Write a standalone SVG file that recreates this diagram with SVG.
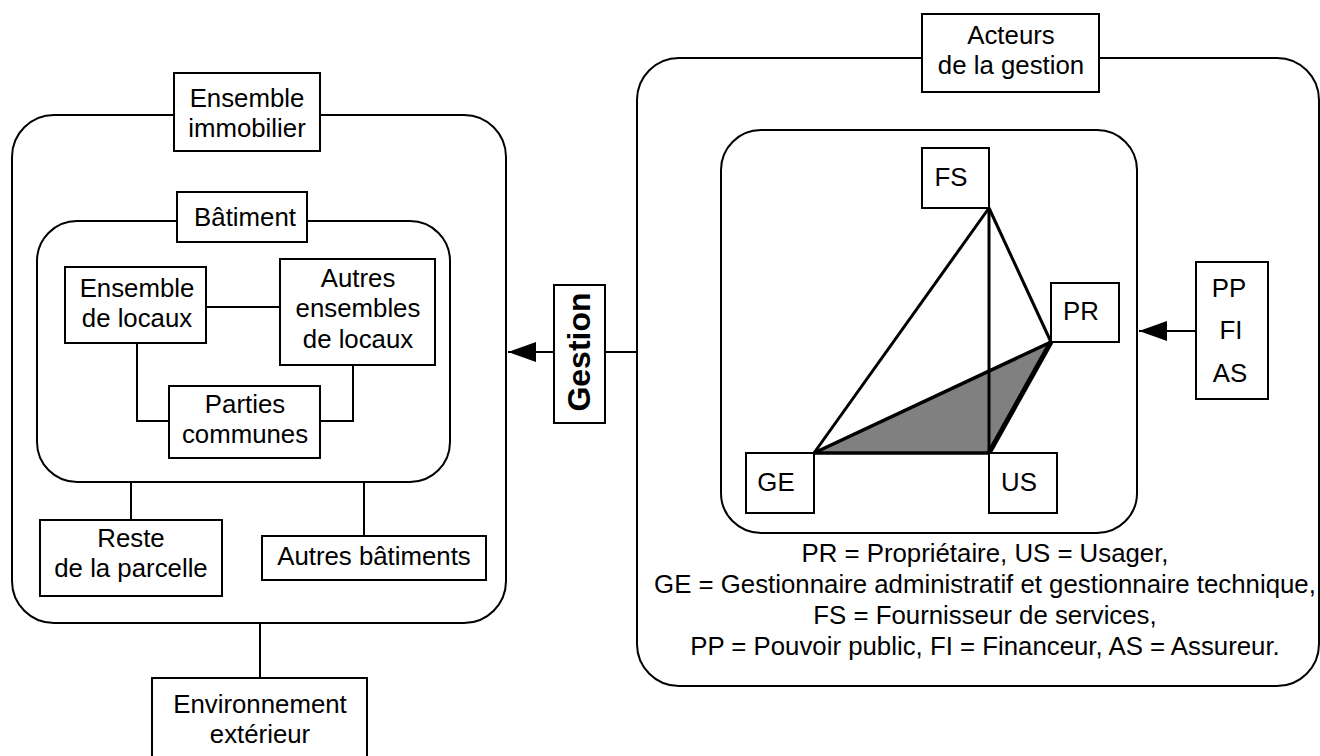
<svg xmlns="http://www.w3.org/2000/svg" width="1320" height="756" viewBox="0 0 1320 756">
<style>
.bx{fill:#fff;stroke:#000;stroke-width:2}
.rr{fill:none;stroke:#000;stroke-width:2}
.ln{fill:none;stroke:#000;stroke-width:2}
.tl{fill:none;stroke:#000;stroke-width:3}
text{font-family:"Liberation Sans",Arial,Helvetica,sans-serif;font-size:25.8px;fill:#000;text-anchor:middle}
.b{font-weight:bold;font-size:32px}
</style>
<defs>
<marker id="arr" markerUnits="userSpaceOnUse" markerWidth="30" markerHeight="22" refX="28" refY="10" orient="auto">
<path d="M0,0 L28,10 L0,20 Z" fill="#000"/>
</marker>
</defs>
<rect id="outer-left" class="rr" x="12" y="115" width="494" height="508" rx="42" ry="42"/>
<rect id="inner-left" class="rr" x="37" y="221" width="413" height="261" rx="40" ry="40"/>
<rect id="outer-right" class="rr" x="637" y="58" width="682" height="628" rx="42" ry="42"/>
<rect id="inner-right" class="rr" x="721" y="130" width="416" height="403" rx="40" ry="40"/>
<g id="connectors">
<line class="ln" x1="206" y1="307" x2="280" y2="307"/>
<polyline class="ln" points="137,343 137,421 169,421"/>
<polyline class="ln" points="353,365 353,421 320,421"/>
<line class="ln" x1="131" y1="482" x2="131" y2="520"/>
<line class="ln" x1="364" y1="482" x2="364" y2="536"/>
<line class="ln" x1="260" y1="623" x2="260" y2="678"/>
<line class="ln" x1="554" y1="352" x2="508" y2="352" marker-end="url(#arr)"/>
<line class="ln" x1="605" y1="352" x2="637" y2="352"/>
<line class="ln" x1="1196" y1="331" x2="1139" y2="331" marker-end="url(#arr)"/>
<polygon points="814,453 1051,342 989,453" fill="#808080" stroke="none"/>
<line class="tl" x1="814" y1="453" x2="989" y2="208"/>
<line class="tl" x1="989" y1="208" x2="989" y2="453"/>
<line class="tl" x1="989" y1="208" x2="1051" y2="342"/>
<line stroke="#000" stroke-width="3.5" x1="814" y1="453" x2="1051" y2="342"/>
<line stroke="#000" stroke-width="3.5" x1="814" y1="453" x2="989" y2="453"/>
<line stroke="#000" stroke-width="5" x1="989" y1="453" x2="1051" y2="342"/>
</g>
<g id="ensemble-immobilier">
<rect class="bx" x="174" y="73" width="146" height="78"/>
<text x="247" y="107">Ensemble</text>
<text x="247" y="137">immobilier</text>
</g>
<g id="batiment">
<rect class="bx" x="177" y="192" width="130" height="50"/>
<text x="245" y="226">Bâtiment</text>
</g>
<g id="ensemble-locaux">
<rect class="bx" x="65" y="267" width="141" height="76"/>
<text x="137" y="297">Ensemble</text>
<text x="137" y="327">de locaux</text>
</g>
<g id="autres-ensembles">
<rect class="bx" x="280" y="259" width="155" height="106"/>
<text x="358" y="287">Autres</text>
<text x="358" y="317">ensembles</text>
<text x="358" y="348">de locaux</text>
</g>
<g id="parties-communes">
<rect class="bx" x="169" y="386" width="151" height="72"/>
<text x="245" y="413">Parties</text>
<text x="245" y="443">communes</text>
</g>
<g id="reste-parcelle">
<rect class="bx" x="40" y="520" width="182" height="76"/>
<text x="131" y="547">Reste</text>
<text x="131" y="577">de la parcelle</text>
</g>
<g id="autres-batiments">
<rect class="bx" x="262" y="536" width="224" height="44"/>
<text x="374" y="565">Autres bâtiments</text>
</g>
<g id="environnement">
<rect class="bx" x="152" y="678" width="215" height="90"/>
<text x="260" y="713">Environnement</text>
<text x="260" y="743">extérieur</text>
</g>
<g id="gestion">
<rect class="bx" x="554" y="285" width="51" height="138"/>
<text class="b" transform="translate(590,352) rotate(-90)" x="0" y="0">Gestion</text>
</g>
<g id="acteurs">
<rect class="bx" x="922" y="14" width="177" height="78"/>
<text x="1011" y="44">Acteurs</text>
<text x="1011" y="74">de la gestion</text>
</g>
<g id="fs">
<rect class="bx" x="922" y="148" width="67" height="60"/>
<text x="951" y="186">FS</text>
</g>
<g id="pr">
<rect class="bx" x="1051" y="283" width="68" height="59"/>
<text x="1081" y="320">PR</text>
</g>
<g id="ge">
<rect class="bx" x="746" y="453" width="68" height="60"/>
<text x="776" y="491">GE</text>
</g>
<g id="us">
<rect class="bx" x="989" y="453" width="68" height="60"/>
<text x="1019" y="491">US</text>
</g>
<g id="pp-fi-as">
<rect class="bx" x="1196" y="262" width="72" height="137"/>
<text x="1229" y="297">PP</text>
<text x="1231" y="339">FI</text>
<text x="1230" y="382">AS</text>
</g>
<g id="legend">
<text x="985" y="562">PR = Propriétaire, US = Usager,</text>
<text x="985" y="593">GE = Gestionnaire administratif et gestionnaire technique,</text>
<text x="985" y="624">FS = Fournisseur de services,</text>
<text x="985" y="655">PP = Pouvoir public, FI = Financeur, AS = Assureur.</text>
</g>
</svg>
